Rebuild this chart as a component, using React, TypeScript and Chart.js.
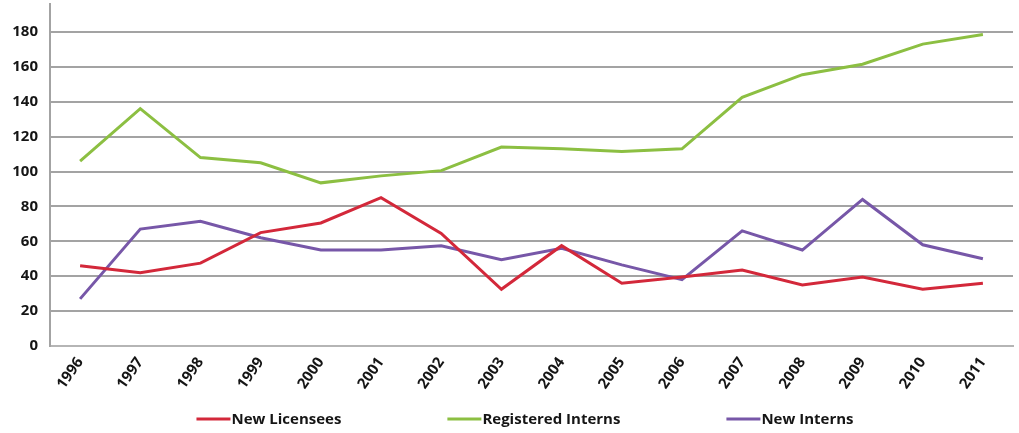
import { useEffect, useRef } from "react";
import { Chart, registerables } from "chart.js";

Chart.register(...registerables);

// Annual counts, 1996–2011
const YEARS = ["1996", "1997", "1998", "1999", "2000", "2001", "2002", "2003", "2004", "2005", "2006", "2007", "2008", "2009", "2010", "2011"];
const NEW_LICENSEES = [46, 42, 47.5, 65, 70.5, 85, 64.5, 32.5, 57.5, 36, 39.5, 43.5, 35, 39.5, 32.5, 36];
const REGISTERED_INTERNS = [106, 136, 108, 105, 93.5, 97.5, 100.5, 114, 113, 111.5, 113, 142.5, 155.5, 161.5, 173, 178.5];
const NEW_INTERNS = [27, 67, 71.5, 62, 55, 55, 57.5, 49.5, 56, 46.5, 38, 66, 55, 84, 58, 50];

const Y_TICK_STEP = 20;
const Y_MAX = 196;

const FONT_FAMILY = "'Open Sans', 'Noto Sans', sans-serif";
const TEXT_COLOR = "#151515";
const GRID_COLOR = "#a3a3a3";

// Legend drawn as a short line swatch followed by the series name, centred under the plot
const bottomLegend = {
  id: "bottomLegend",
  afterDraw(chart: any) {
    const { ctx } = chart;
    const swatch = 34;
    const gapAfterSwatch = 1;
    const gapBetween = 106;
    const centerX = 525;
    const y = 419;
    ctx.save();
    ctx.font = `700 15px ${FONT_FAMILY}`;
    ctx.textBaseline = "middle";
    ctx.textAlign = "left";
    const items = chart.data.datasets.map((ds: any) => ({
      label: ds.label as string,
      color: ds.borderColor as string,
      w: ctx.measureText(ds.label).width,
    }));
    const total =
      items.reduce((s: number, it: any) => s + swatch + gapAfterSwatch + it.w, 0) +
      gapBetween * (items.length - 1);
    let x = centerX - total / 2;
    for (const it of items) {
      ctx.strokeStyle = it.color;
      ctx.lineWidth = 3;
      ctx.beginPath();
      ctx.moveTo(x, y);
      ctx.lineTo(x + swatch, y);
      ctx.stroke();
      x += swatch + gapAfterSwatch;
      ctx.fillStyle = TEXT_COLOR;
      ctx.fillText(it.label, x, y + 1);
      x += it.w + gapBetween;
    }
    ctx.restore();
  },
};

export default function App() {
  const canvasRef = useRef<HTMLCanvasElement>(null);

  useEffect(() => {
    if (!canvasRef.current) return;
    const lineStyle = { borderWidth: 3, pointRadius: 0, tension: 0, fill: false };
    const chart = new Chart(canvasRef.current, {
      type: "line",
      data: {
        labels: YEARS,
        datasets: [
          { label: "New Licensees", data: NEW_LICENSEES, borderColor: "#d3283a", ...lineStyle },
          { label: "Registered Interns", data: REGISTERED_INTERNS, borderColor: "#8cbf42", ...lineStyle },
          { label: "New Interns", data: NEW_INTERNS, borderColor: "#7757a8", ...lineStyle },
        ],
      },
      options: {
        animation: false,
        responsive: false,
        maintainAspectRatio: false,
        layout: { padding: { left: 8, right: 6, top: 4, bottom: 30 } },
        plugins: {
          legend: { display: false },
          tooltip: { enabled: false },
        },
        scales: {
          x: {
            offset: true,
            grid: { display: false, drawTicks: false },
            border: { color: "#b5b5b5", width: 2 },
            ticks: {
              autoSkip: false,
              minRotation: 55,
              maxRotation: 55,
              padding: 8,
              color: TEXT_COLOR,
              font: { family: FONT_FAMILY, size: 15, weight: "bold" },
            },
            afterFit: (scale: any) => {
              scale.height = 57;
              scale.paddingLeft = 0;
              scale.paddingRight = 0;
            },
          },
          y: {
            min: 0,
            max: Y_MAX,
            grid: { color: GRID_COLOR, lineWidth: 2, drawTicks: false },
            border: { color: GRID_COLOR, width: 2 },
            ticks: {
              stepSize: Y_TICK_STEP,
              padding: 12,
              color: TEXT_COLOR,
              font: { family: FONT_FAMILY, size: 15, weight: "bold" },
            },
            afterBuildTicks: (scale: any) => {
              scale.ticks = scale.ticks.filter((t: any) => t.value % Y_TICK_STEP === 0);
            },
            afterFit: (scale: any) => {
              scale.width = 42;
              scale.paddingTop = 0;
              scale.paddingBottom = 0;
            },
          },
        },
      },
      plugins: [bottomLegend],
    });
    return () => chart.destroy();
  }, []);

  return (
    <div style={{ position: "fixed", left: 0, top: 0, width: 1019, height: 433, background: "#fff" }}>
      <canvas ref={canvasRef} width={1019} height={433} style={{ display: "block" }} />
    </div>
  );
}
